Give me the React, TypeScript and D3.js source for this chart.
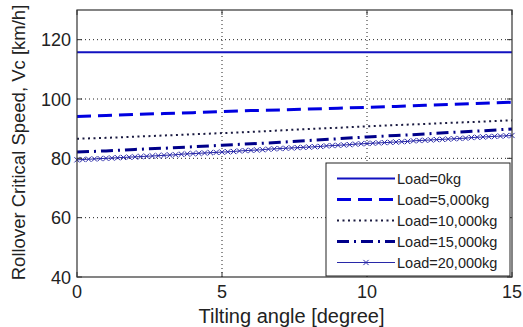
import React from 'react';
import * as d3 from 'd3';

// tilt angles for the line series (1 degree step)
const angles = [0, 1, 2, 3, 4, 5, 6, 7, 8, 9, 10, 11, 12, 13, 14, 15];

const load0 = [115.8, 115.8, 115.8, 115.8, 115.8, 115.8, 115.8, 115.8, 115.8, 115.8, 115.8, 115.8, 115.8, 115.8, 115.8, 115.8];
const load5000 = [94.1, 94.4, 94.8, 95.1, 95.4, 95.8, 96.1, 96.3, 96.6, 96.9, 97.2, 97.5, 97.9, 98.2, 98.6, 98.9];
const load10000 = [86.6, 86.9, 87.3, 87.7, 88.1, 88.5, 88.9, 89.4, 89.9, 90.3, 90.8, 91.2, 91.6, 92.0, 92.4, 92.8];
const load15000 = [82.1, 82.5, 83.0, 83.4, 83.9, 84.4, 84.9, 85.4, 86.0, 86.6, 87.2, 87.7, 88.2, 88.8, 89.3, 89.9];

// the 20,000kg series is sampled densely (0.2 degree step), one marker per sample
const fineAngles = [
  0, 0.2, 0.4, 0.6, 0.8, 1, 1.2, 1.4, 1.6, 1.8, 2, 2.2, 2.4, 2.6, 2.8, 3, 3.2, 3.4, 3.6, 3.8,
  4, 4.2, 4.4, 4.6, 4.8, 5, 5.2, 5.4, 5.6, 5.8, 6, 6.2, 6.4, 6.6, 6.8, 7, 7.2, 7.4, 7.6, 7.8,
  8, 8.2, 8.4, 8.6, 8.8, 9, 9.2, 9.4, 9.6, 9.8, 10, 10.2, 10.4, 10.6, 10.8, 11, 11.2, 11.4, 11.6, 11.8,
  12, 12.2, 12.4, 12.6, 12.8, 13, 13.2, 13.4, 13.6, 13.8, 14, 14.2, 14.4, 14.6, 14.8, 15,
];
const load20000 = [
  79.5, 79.6, 79.7, 79.8, 79.9, 80.0, 80.1, 80.2, 80.3, 80.4, 80.5, 80.6, 80.7, 80.8, 80.9, 81.0, 81.1, 81.2, 81.4, 81.5,
  81.6, 81.7, 81.8, 81.9, 82.0, 82.1, 82.2, 82.3, 82.5, 82.6, 82.7, 82.8, 82.9, 83.1, 83.2, 83.3, 83.4, 83.5, 83.6, 83.7,
  83.8, 83.9, 84.0, 84.2, 84.3, 84.4, 84.5, 84.6, 84.8, 84.9, 85.0, 85.1, 85.2, 85.3, 85.4, 85.5, 85.6, 85.7, 85.9, 86.0,
  86.1, 86.2, 86.3, 86.4, 86.5, 86.6, 86.7, 86.8, 87.0, 87.1, 87.2, 87.3, 87.4, 87.5, 87.6, 87.7,
];

const xTicks = [0, 5, 10, 15];
const yTicks = [40, 60, 80, 100, 120];
const legendLabels = ['Load=0kg', 'Load=5,000kg', 'Load=10,000kg', 'Load=15,000kg', 'Load=20,000kg'];

const W = 523;
const H = 327;
const m = { left: 77, right: 11, top: 10, bottom: 50 };

const styles = [
  { color: '#1212c0', width: 2, dash: 'none' },
  { color: '#0000e0', width: 3, dash: '14,7' },
  { color: '#1a1a40', width: 2, dash: '2,3.5' },
  { color: '#00008a', width: 3, dash: '12,5,2,5' },
  { color: '#2828a8', width: 1, dash: 'none' },
];

const font = '"Liberation Sans", Arial, sans-serif';

const XMark = ({ x, y, s, color }: { x: number; y: number; s: number; color: string }) => (
  <path d={`M${x - s},${y - s}L${x + s},${y + s}M${x - s},${y + s}L${x + s},${y - s}`} stroke={color} strokeWidth={1} />
);

export default function App() {
  const x = d3.scaleLinear().domain([0, 15]).range([m.left, W - m.right]);
  const y = d3.scaleLinear().domain([40, 130]).range([H - m.bottom, m.top]);

  const line = d3.line<[number, number]>().x(d => x(d[0])).y(d => y(d[1]));
  const coarse = [load0, load5000, load10000, load15000];
  const fine: [number, number][] = fineAngles.map((a, i) => [a, load20000[i]]);

  const x0 = x.range()[0], x1 = x.range()[1];
  const y0 = y.range()[0], y1 = y.range()[1];

  // legend box
  const lgX = 326, lgY = 163, lgW = 184, lgH = 113;
  const rowY = (i: number) => lgY + 15.5 + i * 21;

  return (
    <div style={{ position: 'absolute', left: 0, top: 0 }}>
      <svg width={W} height={H} style={{ display: 'block', background: '#fff' }}>
        {/* grid */}
        {xTicks.slice(1, -1).map(t => (
          <line key={'gx' + t} x1={x(t)} x2={x(t)} y1={y0} y2={y1} stroke="#222" strokeWidth={1} strokeDasharray="1,3" />
        ))}
        {yTicks.slice(1).map(t => (
          <line key={'gy' + t} x1={x0} x2={x1} y1={y(t)} y2={y(t)} stroke="#222" strokeWidth={1} strokeDasharray="1,3" />
        ))}

        {/* series */}
        {coarse.map((vals, i) => (
          <path
            key={'s' + i}
            d={line(angles.map((a, j) => [a, vals[j]] as [number, number])) || ''}
            fill="none"
            stroke={styles[i].color}
            strokeWidth={styles[i].width}
            strokeDasharray={styles[i].dash}
          />
        ))}
        <path d={line(fine) || ''} fill="none" stroke={styles[4].color} strokeWidth={1} />
        {fine.map((d, i) => (
          <XMark key={'mk' + i} x={x(d[0])} y={y(d[1])} s={2.6} color={styles[4].color} />
        ))}

        {/* axes box with inward ticks */}
        <rect x={x0} y={y1} width={x1 - x0} height={y0 - y1} fill="none" stroke="#333" strokeWidth={1.2} />
        {xTicks.map(t => (
          <g key={'tx' + t}>
            <line x1={x(t)} x2={x(t)} y1={y0} y2={y0 - 5} stroke="#333" />
            <line x1={x(t)} x2={x(t)} y1={y1} y2={y1 + 5} stroke="#333" />
            <text x={x(t)} y={y0 + 21} textAnchor="middle" fontFamily={font} fontSize={18} fill="#222">{t}</text>
          </g>
        ))}
        {yTicks.map(t => (
          <g key={'ty' + t}>
            <line x1={x0} x2={x0 + 5} y1={y(t)} y2={y(t)} stroke="#333" />
            <line x1={x1} x2={x1 - 5} y1={y(t)} y2={y(t)} stroke="#333" />
            <text x={x0 - 6} y={y(t) + 6.5} textAnchor="end" fontFamily={font} fontSize={18} fill="#222">{t}</text>
          </g>
        ))}

        {/* axis titles */}
        <text x={(x0 + x1) / 2 - 3} y={323} textAnchor="middle" fontFamily={font} fontSize={20} fill="#222">
          Tilting angle [degree]
        </text>
        <text
          transform={`translate(25,${(y0 + y1) / 2 - 1}) rotate(-90)`}
          textAnchor="middle"
          fontFamily={font}
          fontSize={18.5}
          fill="#222"
        >
          Rollover Critical Speed, Vc [km/h]
        </text>

        {/* legend */}
        <rect x={lgX} y={lgY} width={lgW} height={lgH} fill="#fff" stroke="#222" strokeWidth={1} />
        {legendLabels.map((lab, i) => (
          <g key={'lg' + i}>
            <line
              x1={lgX + 11}
              x2={lgX + 69}
              y1={rowY(i)}
              y2={rowY(i)}
              stroke={styles[i].color}
              strokeWidth={styles[i].width}
              strokeDasharray={styles[i].dash}
            />
            {i === 4 && <XMark x={lgX + 40} y={rowY(i)} s={2.6} color={styles[4].color} />}
            <text x={lgX + 71} y={rowY(i) + 5} fontFamily={font} fontSize={14.5} fill="#222">{lab}</text>
          </g>
        ))}
      </svg>
    </div>
  );
}
